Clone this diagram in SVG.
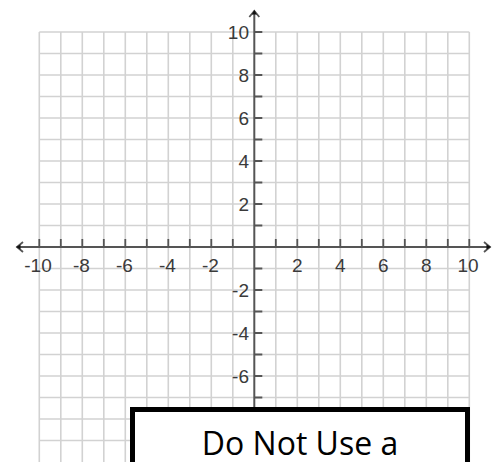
<svg xmlns="http://www.w3.org/2000/svg" width="502" height="462" viewBox="0 0 502 462">
  <style>
    .grid { stroke: #d2d2d2; stroke-width: 1.6; fill: none; }
    .axis { stroke: #555555; stroke-width: 2; fill: none; }
    .tick { stroke: #555555; stroke-width: 1.8; fill: none; }
    .lbl { font-family: "Liberation Sans", Arial, sans-serif; font-size: 19px; fill: #3a3a3a; }
    .ylbl { text-anchor: end; }
    .xlbl { text-anchor: middle; }
    .box { fill: #ffffff; stroke: #000000; stroke-width: 5; }
    .boxtxt { font-family: "Open Sans", "Noto Sans", sans-serif; font-size: 32px; fill: #000000; text-anchor: middle; }
  </style>
  <defs>
    <marker id="arr" viewBox="-8 -6 10 12" markerWidth="10" markerHeight="12" refX="0" refY="0" orient="auto" markerUnits="userSpaceOnUse">
      <path d="M-6,-5 L0,0 L-6,5" stroke="#555555" stroke-width="1.8" fill="none"/>
      <path d="M-3.5,-2.5 L1,0 L-3.5,2.5 Z" fill="#111111"/>
    </marker>
  </defs>
  <rect width="502" height="462" fill="#ffffff"/>
  <g id="grid">
    <path class="grid" d="M39.3,32V462 M60.8,32V462 M82.3,32V462 M103.8,32V462 M125.3,32V462 M146.8,32V462 M168.3,32V462 M189.8,32V462 M211.3,32V462 M232.8,32V462 M275.8,32V462 M297.3,32V462 M318.8,32V462 M340.3,32V462 M361.8,32V462 M383.3,32V462 M404.8,32V462 M426.3,32V462 M447.8,32V462 M469.3,32V462
      M39.3,32H469.3 M39.3,53.5H469.3 M39.3,75H469.3 M39.3,96.5H469.3 M39.3,118H469.3 M39.3,139.5H469.3 M39.3,161H469.3 M39.3,182.5H469.3 M39.3,204H469.3 M39.3,225.5H469.3 M39.3,268.5H469.3 M39.3,290H469.3 M39.3,311.5H469.3 M39.3,333H469.3 M39.3,354.5H469.3 M39.3,376H469.3 M39.3,397.5H469.3 M39.3,419H469.3 M39.3,440.5H469.3"/>
  </g>
  <g id="axes">
    <path class="axis" d="M254.3,462V11" marker-end="url(#arr)"/>
    <path class="axis" d="M254.3,247H490" marker-end="url(#arr)"/>
    <path class="axis" d="M254.3,247H17" marker-end="url(#arr)"/>
    <path class="tick" d="M254.3,32h8 M254.3,53.5h8 M254.3,75h8 M254.3,96.5h8 M254.3,118h8 M254.3,139.5h8 M254.3,161h8 M254.3,182.5h8 M254.3,204h8 M254.3,225.5h8 M254.3,268.5h8 M254.3,290h8 M254.3,311.5h8 M254.3,333h8 M254.3,354.5h8 M254.3,376h8 M254.3,397.5h8 M254.3,419h8 M254.3,440.5h8
      M39.3,247v-8 M60.8,247v-8 M82.3,247v-8 M103.8,247v-8 M125.3,247v-8 M146.8,247v-8 M168.3,247v-8 M189.8,247v-8 M211.3,247v-8 M232.8,247v-8 M275.8,247v-8 M297.3,247v-8 M318.8,247v-8 M340.3,247v-8 M361.8,247v-8 M383.3,247v-8 M404.8,247v-8 M426.3,247v-8 M447.8,247v-8 M469.3,247v-8"/>
  </g>
  <g id="labels">
    <text class="lbl ylbl" x="249" y="39">10</text>
    <text class="lbl ylbl" x="249" y="82">8</text>
    <text class="lbl ylbl" x="249" y="125">6</text>
    <text class="lbl ylbl" x="249" y="168">4</text>
    <text class="lbl ylbl" x="249" y="211">2</text>
    <text class="lbl ylbl" x="249" y="297">-2</text>
    <text class="lbl ylbl" x="249" y="340">-4</text>
    <text class="lbl ylbl" x="249" y="383">-6</text>
    <text class="lbl xlbl" x="38" y="272">-10</text>
    <text class="lbl xlbl" x="81.5" y="272">-8</text>
    <text class="lbl xlbl" x="124.5" y="272">-6</text>
    <text class="lbl xlbl" x="167.5" y="272">-4</text>
    <text class="lbl xlbl" x="210.5" y="272">-2</text>
    <text class="lbl xlbl" x="297.3" y="272">2</text>
    <text class="lbl xlbl" x="340.3" y="272">4</text>
    <text class="lbl xlbl" x="383.3" y="272">6</text>
    <text class="lbl xlbl" x="426.3" y="272">8</text>
    <text class="lbl xlbl" x="468" y="272">10</text>
  </g>
  <g id="note">
    <rect class="box" x="132.5" y="409.5" width="335" height="60"/>
    <text class="boxtxt" x="300" y="455">Do Not Use a</text>
  </g>
</svg>
